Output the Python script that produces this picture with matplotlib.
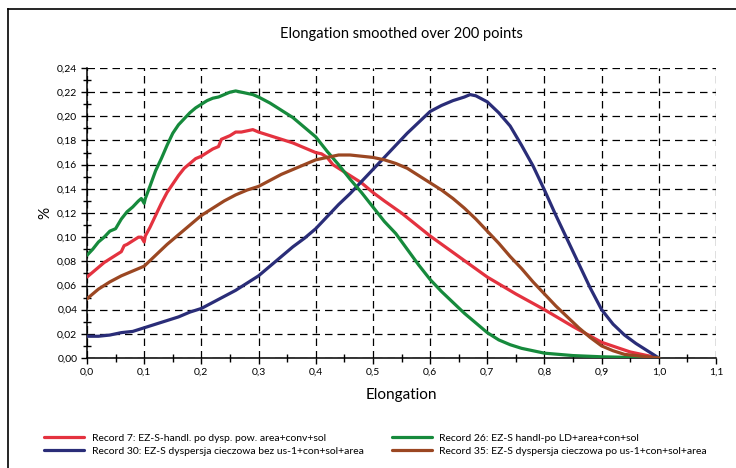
import matplotlib
matplotlib.use("Agg")
import matplotlib.pyplot as plt
from matplotlib.lines import Line2D
from matplotlib.ticker import MultipleLocator, FuncFormatter

plt.rcParams["font.family"] = ["Lato", "DejaVu Sans"]

# ---- data ----
x_red = [0, .01, .02, .03, .04, .05, .06, .065, .07, .08, .09, .095, .1, .102, .11, .12, .13,
         .14, .15, .16, .17, .18, .19, .2, .21, .22, .23, .235, .24, .25, .26, .27, .28, .29,
         .3, .32, .34, .36, .38, .4, .41, .42, .43, .44, .46, .48, .5, .52, .55, .6, .65, .7,
         .75, .8, .85, .9, .95, 1.0]
y_red = [.067, .071, .075, .079, .082, .085, .088, .093, .094, .097, .1, .1, .096, .101, .108,
         .118, .128, .137, .144, .151, .157, .161, .165, .167, .17, .173, .175, .181, .182,
         .184, .187, .187, .188, .189, .187, .184, .181, .178, .174, .17, .169, .166, .16,
         .157, .151, .145, .137, .13, .12, .101, .084, .067, .053, .04, .026, .013, .005, 0]

x_green = [0, .01, .02, .03, .04, .05, .06, .07, .08, .09, .095, .1, .102, .11, .12, .13, .14,
           .15, .16, .17, .18, .19, .2, .21, .22, .23, .24, .25, .26, .27, .28, .29, .3, .32,
           .34, .36, .38, .4, .42, .44, .46, .48, .5, .52, .54, .56, .58, .6, .62, .64, .66,
           .68, .7, .72, .74, .76, .78, .8, .85, .9, .95, 1.0]
y_green = [.085, .09, .096, .1, .105, .107, .115, .121, .125, .13, .132, .128, .132, .142, .155,
           .165, .176, .186, .193, .198, .203, .207, .21, .213, .215, .216, .218, .22, .221,
           .22, .219, .218, .216, .211, .205, .199, .191, .183, .171, .16, .148, .137, .125,
           .113, .103, .09, .077, .065, .055, .046, .037, .029, .021, .015, .011, .008, .006,
           .004, .002, .001, .0005, 0]

x_blue = [0, .02, .04, .06, .08, .1, .12, .14, .16, .18, .2, .22, .24, .26, .28, .3, .32, .34,
          .36, .38, .4, .42, .44, .46, .48, .5, .52, .54, .56, .58, .6, .62, .64, .66, .67, .68,
          .7, .72, .74, .76, .78, .8, .82, .84, .86, .88, .9, .92, .94, .96, .98, 1.0]
y_blue = [.018, .018, .019, .021, .022, .025, .028, .031, .034, .038, .041, .046, .051, .056,
          .062, .068, .076, .084, .092, .099, .107, .117, .127, .136, .146, .156, .166, .176,
          .186, .195, .204, .209, .213, .216, .218, .217, .212, .203, .192, .176, .159, .139,
          .118, .098, .078, .058, .04, .028, .019, .012, .006, 0]

x_brown = [0, .02, .04, .06, .08, .1, .12, .14, .16, .18, .2, .22, .24, .26, .28, .3, .32, .34,
           .36, .38, .4, .42, .44, .46, .48, .5, .52, .54, .56, .58, .6, .62, .64, .66, .68, .7,
           .72, .74, .76, .78, .8, .82, .84, .86, .88, .9, .92, .94, .96, .98, 1.0]
y_brown = [.049, .057, .063, .068, .072, .076, .085, .094, .102, .11, .118, .124, .13, .135,
           .139, .142, .147, .152, .156, .16, .164, .166, .168, .168, .167, .166, .164, .161,
           .157, .151, .145, .139, .132, .124, .115, .105, .095, .084, .074, .063, .053, .043,
           .034, .025, .017, .01, .006, .003, .002, .001, 0]

labels = [
    "Record 7: EZ-S-handl. po dysp. pow. area+conv+sol",
    "Record 30: EZ-S dyspersja cieczowa bez us-1+con+sol+area",
    "Record 26: EZ-S handl-po LD+area+con+sol",
    "Record 35: EZ-S dyspersja cieczowa po us-1+con+sol+area",
]
colors = ["#e4323f", "#2a2d78", "#168a3c", "#9b4722"]

fig = plt.figure(figsize=(7.36, 4.68), dpi=100)
ax = fig.add_axes([87 / 736, 1 - 358 / 468, (716 - 87) / 736, (358 - 68) / 468])

series = [(x_red, y_red), (x_blue, y_blue), (x_green, y_green), (x_brown, y_brown)]
handles = []
for (xs, ys), c, lab in zip(series, colors, labels):
    h, = ax.plot(xs, ys, color=c, lw=2.3, label=lab, solid_capstyle="round", zorder=3)
    handles.append(h)

ax.set_xlim(0, 1.1)
ax.set_ylim(0, 0.24)
ax.xaxis.set_major_locator(MultipleLocator(0.1))
ax.xaxis.set_minor_locator(MultipleLocator(0.05))
ax.yaxis.set_major_locator(MultipleLocator(0.02))
ax.yaxis.set_minor_locator(MultipleLocator(0.01))
ax.xaxis.set_major_formatter(FuncFormatter(lambda v, p: f"{v:.1f}".replace(".", ",")))
ax.yaxis.set_major_formatter(FuncFormatter(lambda v, p: f"{v:.2f}".replace(".", ",")))
ax.tick_params(which="major", direction="out", length=4, width=1, labelsize=7.5, pad=3)
ax.tick_params(which="minor", direction="inout", length=6, width=1)

ax.grid(True, which="major", color="black", linestyle=(0, (6, 4)), linewidth=0.9)
for side in ("top", "right"):
    ax.spines[side].set_visible(False)
for side in ("left", "bottom"):
    ax.spines[side].set_linewidth(1.1)

ax.set_xlabel("Elongation", fontsize=11, labelpad=8)
ax.set_ylabel("%", fontsize=11, labelpad=3)
fig.text(401 / 736, 1 - 34 / 468, "Elongation smoothed over 200 points",
         ha="center", va="center", fontsize=10.5)

fig.legend(handles=handles, labels=labels, ncol=2, loc="upper left",
           bbox_to_anchor=(35 / 736, 1 - 424 / 468), frameon=False, fontsize=7.5,
           handlelength=3.85, handletextpad=0.7, columnspacing=2.7, labelspacing=0.35)

# outer frame (top and left edges only)
fig.add_artist(Line2D([8 / 736, 1], [1 - 9 / 468, 1 - 9 / 468], color="black", lw=1.2))
fig.add_artist(Line2D([8 / 736, 8 / 736], [0, 1 - 9 / 468], color="black", lw=1.2))

fig.savefig("out.png", dpi=100)
